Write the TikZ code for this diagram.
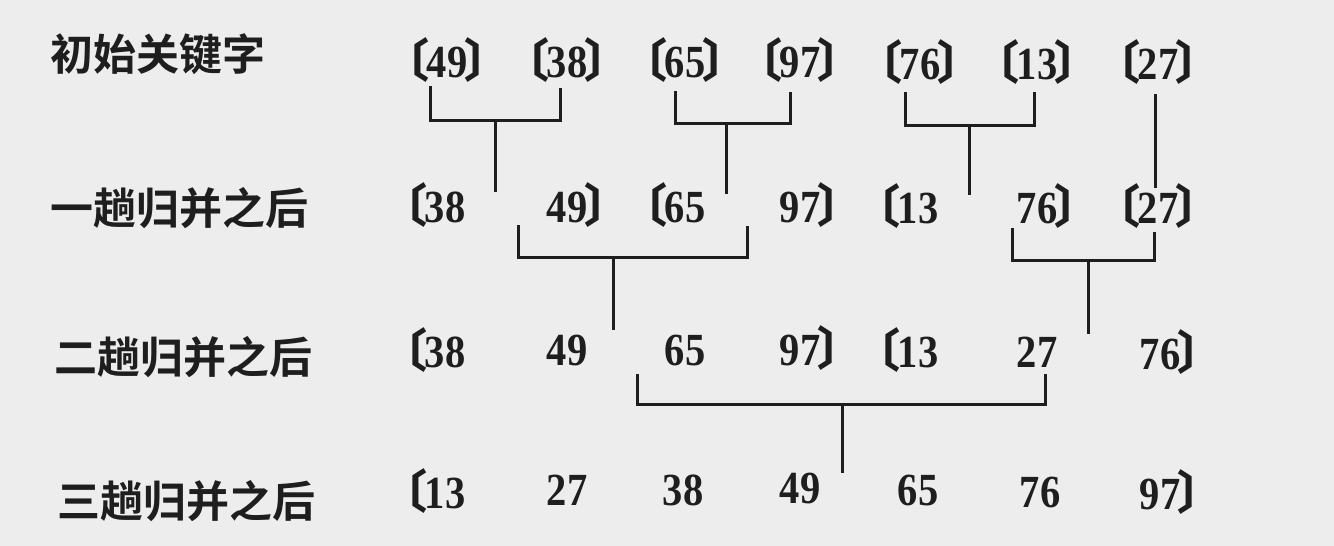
\documentclass[tikz,border=0pt]{standalone}
\usepackage{fontspec}
\setmainfont{Liberation Serif}
\newfontfamily\cjkb{Noto Sans CJK SC Bold}
\newfontfamily\numf[FakeStretch=0.88]{Liberation Serif}
\definecolor{bgc}{HTML}{EDEDED}
\definecolor{ink}{HTML}{1E1E1E}
\newcommand\LB{\llap{\smash{\fontsize{46}{46}\selectfont\cjkb 〔\kern-0.07em}}}
\newcommand\RB{\rlap{\smash{\fontsize{46}{46}\selectfont\cjkb \kern-0.07em〕}}}
\tikzset{
  num/.style={inner sep=0pt, text=ink, font=\numf\bfseries\fontsize{46}{46}\selectfont},
  lbl/.style={inner sep=0pt, anchor=west, text=ink, font=\cjkb\fontsize{43}{43}\selectfont},
  link/.style={draw=ink, line width=3pt, line cap=butt, line join=miter}
}
\begin{document}
\begin{tikzpicture}[x=1pt,y=-1pt]
\fill[bgc] (0,0) rectangle (1334,546);
\useasboundingbox (0,0) rectangle (1334,546);
% labels
\node[lbl] (L1) at (50,54) {初始关键字};
\node[lbl] (L2) at (50,208) {一趟归并之后};
\node[lbl] (L3) at (54,357) {二趟归并之后};
\node[lbl] (L4) at (57,501) {三趟归并之后};
% row 1
\node[num] (a1) at (447,62) {\LB49\RB};
\node[num] (a2) at (567,62) {\LB38\RB};
\node[num] (a3) at (685,62) {\LB65\RB};
\node[num] (a4) at (800,62) {\LB97\RB};
\node[num] (a5) at (920,64) {\LB76\RB};
\node[num] (a6) at (1037,64) {\LB13\RB};
\node[num] (a7) at (1158,64) {\LB27\RB};
% row 2
\node[num] (b1) at (445,207) {\LB38};
\node[num] (b2) at (567,207) {49\RB};
\node[num] (b3) at (685,207) {\LB65};
\node[num] (b4) at (800,207) {97\RB};
\node[num] (b5) at (918,208) {\LB13};
\node[num] (b6) at (1037,208) {76\RB};
\node[num] (b7) at (1158,208) {\LB27\RB};
% row 3
\node[num] (c1) at (445,352) {\LB38};
\node[num] (c2) at (567,350) {49};
\node[num] (c3) at (685,350) {65};
\node[num] (c4) at (800,350) {97\RB};
\node[num] (c5) at (918,352) {\LB13};
\node[num] (c6) at (1037,352) {27};
\node[num] (c7) at (1160,354) {76\RB};
% row 4
\node[num] (d1) at (445,493) {\LB13};
\node[num] (d2) at (567,490) {27};
\node[num] (d3) at (683,490) {38};
\node[num] (d4) at (800,488) {49};
\node[num] (d5) at (918,490) {65};
\node[num] (d6) at (1040,492) {76};
\node[num] (d7) at (1160,494) {97\RB};
% connector coordinates
\coordinate (p1l) at (430,86);  \coordinate (p1r) at (560,88);
\coordinate (p1h) at (495,120); \coordinate (p1e) at (495,192);
\coordinate (p2l) at (675,91);  \coordinate (p2r) at (790,92);
\coordinate (p2h) at (726,123); \coordinate (p2e) at (726,194);
\coordinate (p3l) at (905,92);  \coordinate (p3r) at (1034,92);
\coordinate (p3h) at (969,125); \coordinate (p3e) at (969,195);
\coordinate (p4t) at (1155,94); \coordinate (p4e) at (1155,188);
\coordinate (q1l) at (518,225); \coordinate (q1r) at (747,226);
\coordinate (q1h) at (613,257); \coordinate (q1e) at (613,330);
\coordinate (q2l) at (1012,228); \coordinate (q2r) at (1154,232);
\coordinate (q2h) at (1088,260); \coordinate (q2e) at (1088,334);
\coordinate (s1l) at (637,374); \coordinate (s1r) at (1045,374);
\coordinate (s1h) at (842,404); \coordinate (s1e) at (842,473);
% connectors
\draw[link] (p1l) |- (p1h) -| (p1r);  \draw[link] (p1h) -- (p1e);
\draw[link] (p2l) |- (p2h) -| (p2r);  \draw[link] (p2h) -- (p2e);
\draw[link] (p3l) |- (p3h) -| (p3r);  \draw[link] (p3h) -- (p3e);
\draw[link] (p4t) -- (p4e);
\draw[link] (q1l) |- (q1h) -| (q1r);  \draw[link] (q1h) -- (q1e);
\draw[link] (q2l) |- (q2h) -| (q2r);  \draw[link] (q2h) -- (q2e);
\draw[link] (s1l) |- (s1h) -| (s1r);  \draw[link] (s1h) -- (s1e);
\end{tikzpicture}
\end{document}
